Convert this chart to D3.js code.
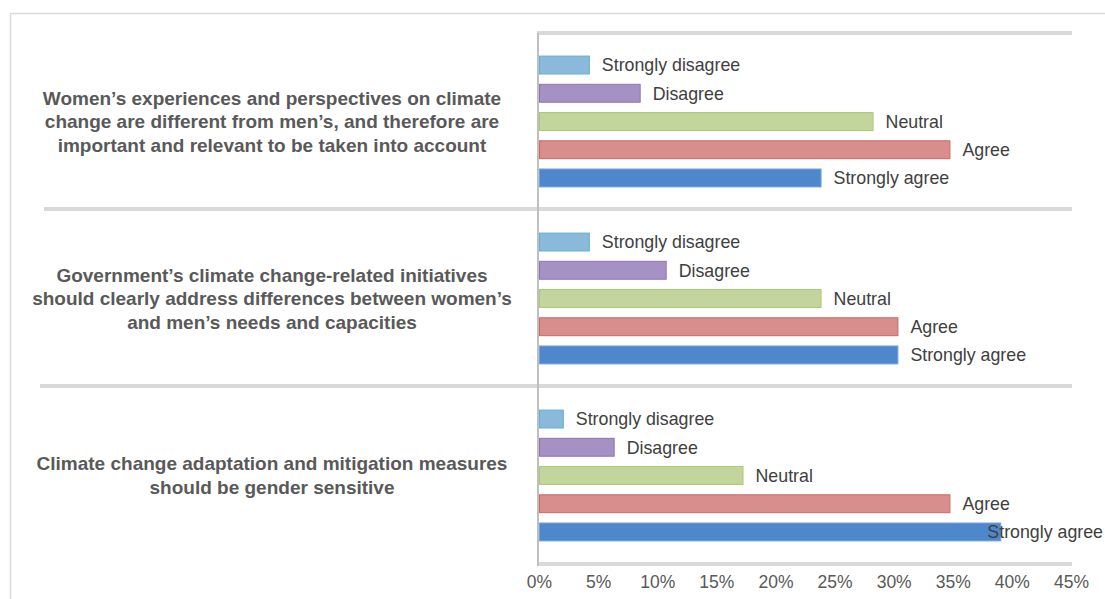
<!DOCTYPE html>
<html>
<head>
<meta charset="utf-8">
<script src="https://cdn.jsdelivr.net/npm/d3@7"></script>
<style>
  body { margin: 0; background: #fff; }
  svg { display: block; }
</style>
</head>
<body>
<div id="grafico"></div>
<script>
const WIDTH = 1105;
const HEIGHT = 599;

// statements (top to bottom), each label split into lines
const groups = ["g1", "g2", "g3"];
const groupLabels = [
    ["Women\u2019s experiences and perspectives on climate",
     "change are different from men\u2019s, and therefore are",
     "important and relevant to be taken into account"],
    ["Government\u2019s climate change-related initiatives",
     "should clearly address differences between women\u2019s",
     "and men\u2019s needs and capacities"],
    ["Climate change adaptation and mitigation measures",
     "should be gender sensitive"]
];

// answer categories, drawn top to bottom inside each group
const answers = ["Strongly disagree", "Disagree", "Neutral", "Agree", "Strongly agree"];

// share of respondents (%) per statement, same order as answers
const valuesG1 = [4.3, 8.6, 28.3, 34.8, 23.9];
const valuesG2 = [4.3, 10.8, 23.9, 30.4, 30.4];
const valuesG3 = [2.1, 6.4, 17.3, 34.8, 39.1];
const allValues = [valuesG1, valuesG2, valuesG3];

const ticks = [0, 5, 10, 15, 20, 25, 30, 35, 40, 45];

const fills = ["#8bb9db", "#a691c4", "#c2d69b", "#d78e8d", "#4f87cd"];
const strokes = ["#5db3d2", "#8d73b3", "#abc877", "#cb6866", "#72a2dc"];

let svg = d3.select("#grafico")
    .append("svg")
    .attr("width", WIDTH)
    .attr("height", HEIGHT);

// outer frame
svg.append("rect")
    .attr("x", 10.5)
    .attr("y", 13.5)
    .attr("width", 1110)
    .attr("height", 620)
    .style("fill", "none")
    .style("stroke", "#d9d9d9")
    .style("stroke-width", 1.5);

let x = d3.scaleLinear()
    .domain([0, 45])
    .range([539, 1071]);

let yGroup = d3.scaleBand()
    .domain(groups)
    .range([33, 564]);

let yBar = d3.scaleBand()
    .domain(answers)
    .range([0, yGroup.bandwidth()])
    .paddingInner(0.33)
    .paddingOuter(0.8);

// group dividers
let dividers = [
    {y: yGroup.range()[0], x0: 537},
    {y: yGroup("g2") - 1, x0: 44},
    {y: yGroup("g3") - 1, x0: 40},
    {y: yGroup.range()[1], x0: 537}
];
svg.selectAll(".divider")
    .data(dividers)
    .enter()
    .append("line")
    .attr("class", "divider")
    .attr("x1", d => d.x0)
    .attr("x2", x(45) + 1)
    .attr("y1", d => d.y)
    .attr("y2", d => d.y)
    .style("stroke", "#d9d9d9")
    .style("stroke-width", 4);

// vertical axis line
svg.append("line")
    .attr("x1", x(0) - 1)
    .attr("x2", x(0) - 1)
    .attr("y1", yGroup.range()[0])
    .attr("y2", yGroup.range()[1] + 2)
    .style("stroke", "#bfbfbf")
    .style("stroke-width", 2);

// x axis labels
let xAxis = d3.axisBottom(x)
    .tickValues(ticks)
    .tickSize(0)
    .tickPadding(0)
    .tickFormat(d => d + "%");

let axisG = svg.append("g")
    .attr("transform", "translate(0,582)")
    .call(xAxis);
axisG.select(".domain").remove();
axisG.selectAll("text")
    .attr("dy", "0.35em")
    .style("fill", "#595959")
    .style("font-family", "'Liberation Sans', Arial, sans-serif")
    .style("font-size", "17.5px");

groups.forEach((g, gi) => {
    let gg = svg.append("g")
        .attr("transform", "translate(0," + yGroup(g) + ")");

    let rows = answers.map((a, i) => ({answer: a, value: allValues[gi][i], idx: i}));

    gg.selectAll(".bar")
        .data(rows)
        .enter()
        .append("rect")
        .attr("class", "bar")
        .attr("x", x(0) + 0.5)
        .attr("y", d => yBar(d.answer) + 0.5)
        .attr("width", d => x(d.value) - x(0) - 1)
        .attr("height", yBar.bandwidth() - 1)
        .style("fill", d => fills[d.idx])
        .style("stroke", d => strokes[d.idx])
        .style("stroke-width", 1);

    gg.selectAll(".val")
        .data(rows)
        .enter()
        .append("text")
        .attr("class", "val")
        .attr("x", d => x(d.value) + 12)
        .attr("y", d => yBar(d.answer) + yBar.bandwidth() / 2)
        .attr("dy", "0.35em")
        .style("fill", "#404040")
        .style("font-family", "'Liberation Sans', Arial, sans-serif")
        .style("font-size", "17.8px")
        .text(d => d.answer)
        .each(function(){
            // keep labels inside the picture, as the original does
            let w = this.getComputedTextLength();
            let x0 = +d3.select(this).attr("x");
            if(x0 + w > WIDTH - 2){
                d3.select(this).attr("x", WIDTH - 2 - w);
            }
        });

    let lines = groupLabels[gi];
    let lineH = 23.5;
    let mid = yGroup.bandwidth() / 2;
    gg.append("text")
        .attr("text-anchor", "middle")
        .style("fill", "#595959")
        .style("font-family", "'Liberation Sans', Arial, sans-serif")
        .style("font-weight", "bold")
        .style("font-size", "19px")
        .selectAll("tspan")
        .data(lines)
        .enter()
        .append("tspan")
        .attr("x", 272)
        .attr("y", (d, i) => mid + (i - (lines.length - 1) / 2) * lineH)
        .attr("dy", "0.35em")
        .text(d => d);
});
</script>
</body>
</html>
